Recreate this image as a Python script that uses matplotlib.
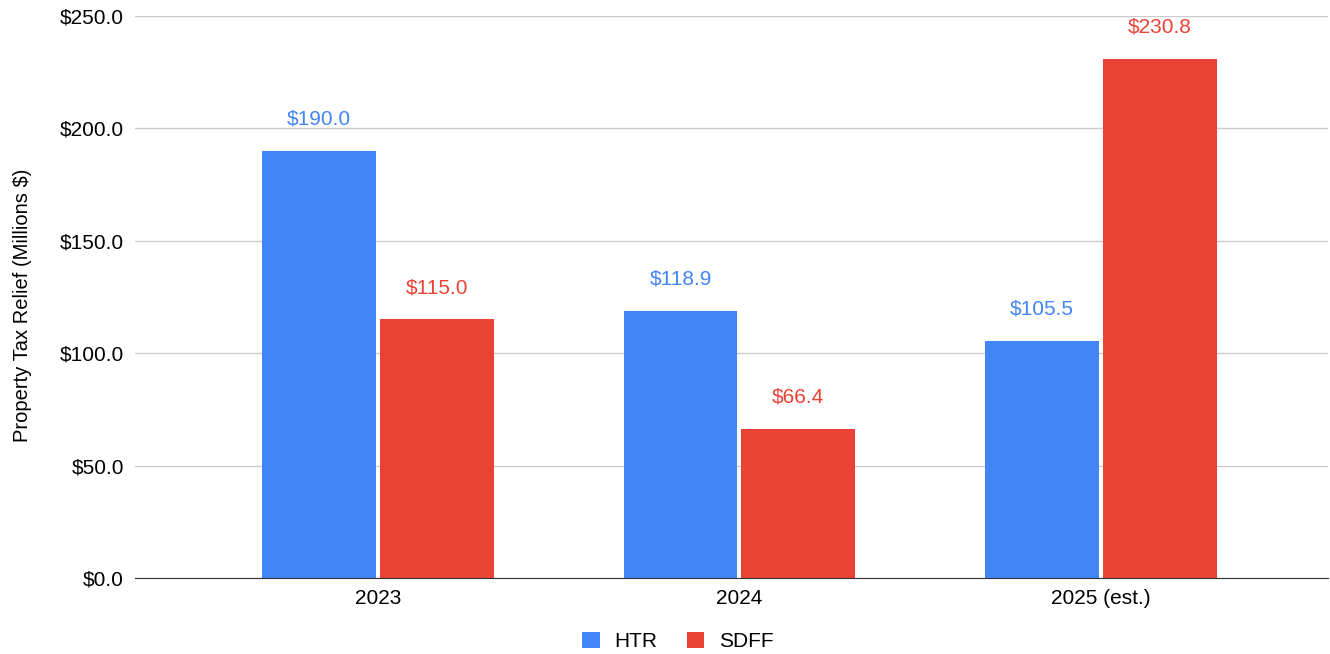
import matplotlib.pyplot as plt
import numpy as np

plt.rcParams['font.family'] = ['Liberation Sans', 'DejaVu Sans']

years = ['2023', '2024', '2025 (est.)']
htr = [190.0, 118.9, 105.5]
sdff = [115.0, 66.4, 230.8]
yticks = [0, 50, 100, 150, 200, 250]

blue = '#4285F4'
red = '#EA4335'

fig = plt.figure(figsize=(13.3, 6.54), dpi=100)
ax = fig.add_axes([0.1015, 0.1162, 0.897, 0.8593])

x = np.arange(len(years))
w = 0.315
off = 0.163
b1 = ax.bar(x - off, htr, w, color=blue, label='HTR', zorder=3)
b2 = ax.bar(x + off, sdff, w, color=red, label='SDFF', zorder=3)

for bars, vals, c in [(b1, htr, blue), (b2, sdff, red)]:
    for b, v in zip(bars, vals):
        ax.annotate(f'${v:.1f}', (b.get_x() + b.get_width() / 2, v),
                    xytext=(0, 16), textcoords='offset points',
                    ha='center', va='bottom', color=c, fontsize=15)

ax.set_xlim(-0.672, 2.628)
ax.set_ylim(0, 250)
ax.set_yticks(yticks)
ax.set_yticklabels([f'${t:.1f}' for t in yticks], fontsize=15)
ax.set_xticks(x)
ax.set_xticklabels(years, fontsize=15)
ax.tick_params(axis='both', length=0)
ax.tick_params(axis='y', pad=8)
ax.tick_params(axis='x', pad=8)
ax.grid(axis='y', color='#cccccc', linewidth=1, zorder=0)
for s in ['top', 'right', 'left']:
    ax.spines[s].set_visible(False)
ax.spines['bottom'].set_color('#333333')
ax.spines['bottom'].set_zorder(4)

ax.set_ylabel('Property Tax Relief (Millions $)', fontsize=14.5)
ax.yaxis.set_label_coords(-0.086, 0.486)

ax.legend(loc='center', bbox_to_anchor=(0.455, -0.113), ncol=2, frameon=False,
          fontsize=15, handlelength=0.85, handleheight=0.85, columnspacing=1.4,
          handletextpad=0.7)

fig.savefig('out.png', dpi=100)
